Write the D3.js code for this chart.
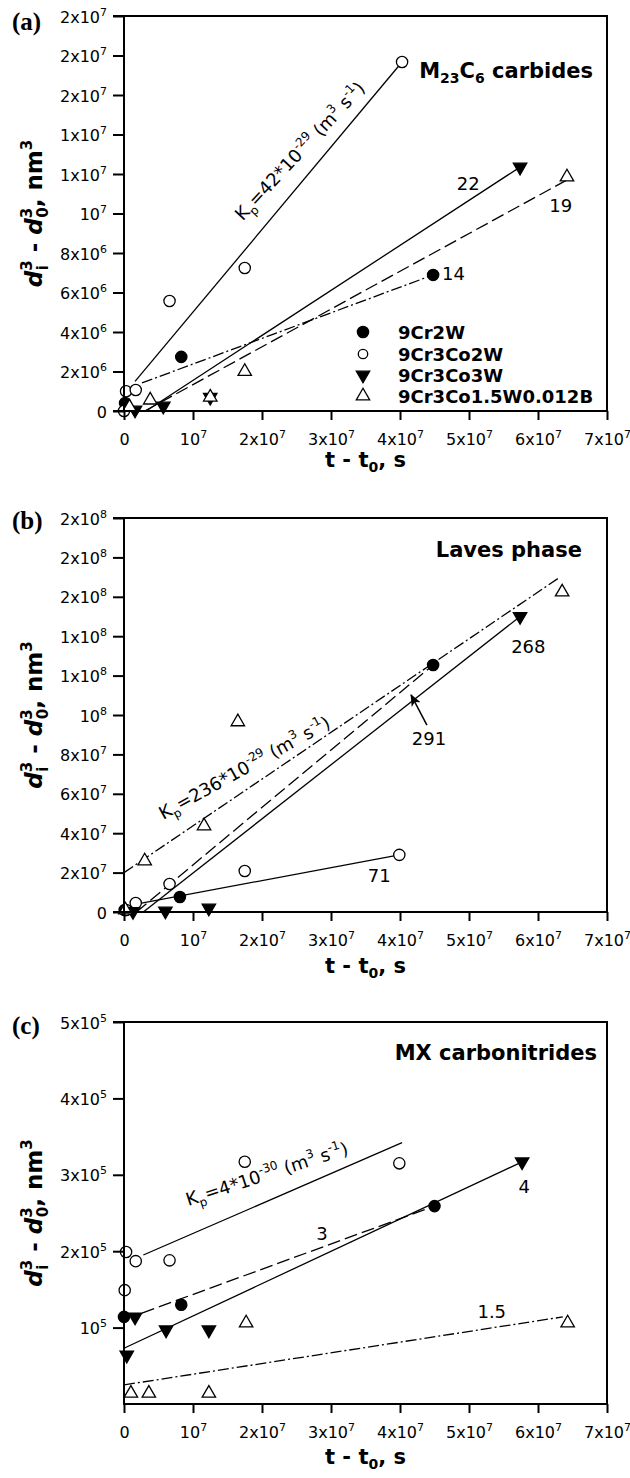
<!DOCTYPE html>
<html>
<head>
<meta charset="utf-8">
<script src="https://cdn.jsdelivr.net/npm/d3@7"></script>
<style>
  body { margin: 0; background: #fff; }
</style>
</head>
<body>
<div id="chart"></div>
<script>
// ---- data ----
var seriesNames = ["9Cr2W", "9Cr3Co2W", "9Cr3Co3W", "9Cr3Co1.5W0.012B"];

var xTicks = [0, 1e7, 2e7, 3e7, 4e7, 5e7, 6e7, 7e7];
var xTickLabels = ["0", "10^7", "2x10^7", "3x10^7", "4x10^7", "5x10^7", "6x10^7", "7x10^7"];

// (a) M23C6 carbides
var m23YTicks = [0, 2e6, 4e6, 6e6, 8e6, 1e7, 1.2e7, 1.4e7, 1.6e7, 1.8e7, 2e7];
var m23YLabels = ["0", "2x10^6", "4x10^6", "6x10^6", "8x10^6", "10^7", "1x10^7", "1x10^7", "2x10^7", "2x10^7", "2x10^7"];
var m23_9Cr2W = [[1.5e5, 4.0e5], [8.3e6, 2.74e6], [4.48e7, 6.89e6]];
var m23_9Cr3Co2W = [[0, 0], [3e5, 1.0e6], [1.7e6, 1.06e6], [6.6e6, 5.57e6], [1.75e7, 7.24e6], [4.03e7, 1.767e7]];
var m23_9Cr3Co3W = [[1.6e6, 5e4], [5.7e6, 2.5e5], [1.25e7, 7.0e5], [5.74e7, 1.235e7]];
var m23_9Cr3Co15W = [[8e5, 2e5], [3.8e6, 5.5e5], [1.25e7, 7.0e5], [1.75e7, 2.0e6], [6.42e7, 1.185e7]];
var m23Fit9Cr2W = [[2.6e6, 1.42e6], [4.48e7, 6.89e6]];
var m23Fit9Cr3Co2W = [[1.6e6, 1.5e6], [4.03e7, 1.767e7]];
var m23Fit9Cr3Co3W = [[3.2e6, 0], [5.74e7, 1.235e7]];
var m23Fit9Cr3Co15W = [[3.0e6, 0], [6.42e7, 1.17e7]];

// (b) Laves phase
var lavYTicks = [0, 2e7, 4e7, 6e7, 8e7, 1e8, 1.2e8, 1.4e8, 1.6e8, 1.8e8, 2e8];
var lavYLabels = ["0", "2x10^7", "4x10^7", "6x10^7", "8x10^7", "10^8", "1x10^8", "1x10^8", "2x10^8", "2x10^8", "2x10^8"];
var lav_9Cr2W = [[1e5, 1e6], [8.1e6, 7.6e6], [4.48e7, 1.254e8]];
var lav_9Cr3Co2W = [[3e5, 1e6], [1.7e6, 4.6e6], [6.6e6, 1.42e7], [1.75e7, 2.08e7], [3.99e7, 2.9e7]];
var lav_9Cr3Co3W = [[1.3e6, 3e5], [6.0e6, 5e5], [1.23e7, 2.0e6], [5.74e7, 1.5e8]];
var lav_9Cr3Co15W = [[2e5, 1e6], [3.0e6, 2.59e7], [1.16e7, 4.37e7], [1.65e7, 9.65e7], [6.35e7, 1.624e8]];
var lavFit9Cr2W = [[1.8e6, 0], [4.48e7, 1.254e8]];
var lavFit9Cr3Co2W = [[1.0e6, 3.5e6], [3.99e7, 2.9e7]];
var lavFit9Cr3Co3W = [[2.8e6, 0], [5.74e7, 1.5e8]];
var lavFit9Cr3Co15W = [[0, 2.0e7], [6.32e7, 1.70e8]];

// (c) MX carbonitrides
var mxYTicks = [1e5, 2e5, 3e5, 4e5, 5e5];
var mxYLabels = ["10^5", "2x10^5", "3x10^5", "4x10^5", "5x10^5"];
var mx_9Cr2W = [[0, 1.14e5], [8.3e6, 1.3e5], [4.5e7, 2.59e5]];
var mx_9Cr3Co2W = [[1e5, 1.49e5], [3e5, 1.99e5], [1.7e6, 1.87e5], [6.6e6, 1.88e5], [1.75e7, 3.17e5], [3.99e7, 3.15e5]];
var mx_9Cr3Co3W = [[4e5, 6.4e4], [1.6e6, 1.14e5], [6.1e6, 9.7e4], [1.23e7, 9.7e4], [5.77e7, 3.17e5]];
var mx_9Cr3Co15W = [[1e6, 1.4e4], [3.6e6, 1.4e4], [1.23e7, 1.4e4], [1.77e7, 1.06e5], [6.43e7, 1.06e5]];
var mxFit9Cr2W = [[2.6e6, 1.19e5], [4.5e7, 2.59e5]];
var mxFit9Cr3Co2W = [[2.8e6, 1.95e5], [4.03e7, 3.42e5]];
var mxFit9Cr3Co3W = [[0, 7.3e4], [5.77e7, 3.17e5]];
var mxFit9Cr3Co15W = [[0, 2.5e4], [6.36e7, 1.14e5]];

// ---- layout / styles ----
var W = 630, H = 1478;
var left = 124, right = 607;
var sansFont = "DejaVu Sans, Verdana, sans-serif";

var markerStyles = [
  { type: d3.symbolCircle, size: 100, fill: "#000", rot: 0 },
  { type: d3.symbolCircle, size: 100, fill: "#fff", rot: 0 },
  { type: d3.symbolTriangle, size: 78, fill: "#000", rot: 180 },
  { type: d3.symbolTriangle, size: 78, fill: "#fff", rot: 0 }
];
var dashSolid = null, dashLong = "13,5", dashDot = "11,3,2,3";

var panels = [
  {
    letter: "(a)", top: 16, bottom: 411, yMax: 2e7, yTicks: m23YTicks, yLabels: m23YLabels,
    zeroTick: true, letterY: 30, xLabelDy: 56,
    points: [m23_9Cr2W, m23_9Cr3Co2W, m23_9Cr3Co3W, m23_9Cr3Co15W],
    fits: [[m23Fit9Cr2W, dashDot], [m23Fit9Cr3Co2W, dashSolid], [m23Fit9Cr3Co3W, dashSolid], [m23Fit9Cr3Co15W, dashLong]],
    title: [["M", ""], ["23", "sub"], ["C", ""], ["6", "sub"], [" carbides", ""]], titleX: 593, titleY: 78,
    notes: [["22", 4.99e7, 1.119e7, "middle"], ["19", 6.33e7, 1.008e7, "middle"], ["14", 4.61e7, 6.63e6, "start"]],
    k: { text: "42", x: 1.72e7, y: 9.6e6, angle: -47, exp: "-29" },
    legend: true
  },
  {
    letter: "(b)", top: 518, bottom: 912, yMax: 2e8, yTicks: lavYTicks, yLabels: lavYLabels,
    zeroTick: true, letterY: 529, xLabelDy: 61,
    points: [lav_9Cr2W, lav_9Cr3Co2W, lav_9Cr3Co3W, lav_9Cr3Co15W],
    fits: [[lavFit9Cr2W, dashLong], [lavFit9Cr3Co2W, dashSolid], [lavFit9Cr3Co3W, dashSolid], [lavFit9Cr3Co15W, dashDot]],
    title: [["Laves phase", ""]], titleX: 582, titleY: 557,
    notes: [["268", 5.86e7, 1.315e8, "middle"], ["291", 4.42e7, 8.48e7, "middle"], ["71", 3.70e7, 1.52e7, "middle"]],
    arrow: [[4.39e7, 9.49e7], [4.16e7, 1.102e8]],
    k: { text: "236", x: 5.7e6, y: 4.67e7, angle: -29, exp: "-29" }
  },
  {
    letter: "(c)", top: 1022, bottom: 1404, yMax: 5e5, yTicks: mxYTicks, yLabels: mxYLabels,
    zeroTick: false, letterY: 1034, xLabelDy: 60,
    points: [mx_9Cr2W, mx_9Cr3Co2W, mx_9Cr3Co3W, mx_9Cr3Co15W],
    fits: [[mxFit9Cr2W, dashLong], [mxFit9Cr3Co2W, dashSolid], [mxFit9Cr3Co3W, dashSolid], [mxFit9Cr3Co15W, dashDot]],
    title: [["MX carbonitrides", ""]], titleX: 597, titleY: 1060,
    notes: [["4", 5.8e7, 2.76e5, "middle"], ["3", 2.87e7, 2.15e5, "middle"], ["1.5", 5.33e7, 1.13e5, "middle"]],
    k: { text: "4", x: 9.3e6, y: 2.59e5, angle: -18, exp: "-30" }
  }
];

var svg = d3.select("#chart").append("svg")
    .attr("width", W)
    .attr("height", H)
    .style("background", "#fff");

svg.append("defs").append("marker")
    .attr("id", "arrowhead")
    .attr("viewBox", "0 0 12 10")
    .attr("refX", 11).attr("refY", 5)
    .attr("markerWidth", 12).attr("markerHeight", 10)
    .attr("markerUnits", "userSpaceOnUse")
    .attr("orient", "auto")
  .append("path")
    .attr("d", "M0,0 L12,5 L0,10 L3,5 z")
    .attr("fill", "#000");

// text with sub/superscript parts: [[str, ""|"sub"|"sup"], ...]
function addParts(text, parts, small, up, down) {
  var cur = 0;
  parts.forEach(function(p) {
    var target = p[1] === "sup" ? -up : (p[1] === "sub" ? down : 0);
    var ts = text.append("tspan").text(p[0]);
    if (target - cur !== 0) ts.attr("dy", target - cur);
    if (p[1]) ts.attr("font-size", small);
    cur = target;
  });
}

function powerParts(label) {
  var bits = label.split("^");
  return bits.length > 1 ? [[bits[0], ""], [bits[1], "sup"]] : [[bits[0], ""]];
}

var x = d3.scaleLinear().domain([0, 7e7]).range([left, right]);

panels.forEach(function(p) {
  var y = d3.scaleLinear().domain([0, p.yMax]).range([p.bottom, p.top]);
  var g = svg.append("g");

  // fitted lines
  var line = d3.line().x(function(d) { return x(d[0]); }).y(function(d) { return y(d[1]); });
  p.fits.forEach(function(f) {
    g.append("path")
        .attr("d", line(f[0]))
        .attr("fill", "none")
        .attr("stroke", "#000")
        .attr("stroke-width", 1.3)
        .attr("stroke-dasharray", f[1]);
  });

  // markers
  p.points.forEach(function(pts, i) {
    var st = markerStyles[i];
    g.selectAll(null).data(pts).enter().append("path")
        .attr("d", d3.symbol().type(st.type).size(st.size))
        .attr("transform", function(d) { return "translate(" + x(d[0]) + "," + y(d[1]) + ") rotate(" + st.rot + ")"; })
        .attr("fill", st.fill)
        .attr("stroke", "#000")
        .attr("stroke-width", 1.3);
  });

  // axes
  var yAxis = g.append("g")
      .attr("transform", "translate(" + left + ",0)")
      .call(d3.axisLeft(y).tickValues(p.yTicks).tickSize(11).tickFormat(function(d, i) { return p.yLabels[i]; }));
  var xAxis = g.append("g")
      .attr("transform", "translate(0," + p.bottom + ")")
      .call(d3.axisBottom(x).tickValues(xTicks).tickSize(9).tickFormat(function(d, i) { return xTickLabels[i]; }));
  [yAxis, xAxis].forEach(function(ax) {
    ax.select(".domain").remove();
    ax.selectAll(".tick line").attr("stroke", "#000").attr("stroke-width", 2);
    ax.selectAll(".tick text")
        .attr("fill", "#000")
        .attr("font-family", sansFont)
        .attr("font-size", 16)
        .each(function() {
          var t = d3.select(this), lab = t.text();
          t.text(null);
          addParts(t, powerParts(lab), 11, 7, 0);
        });
  });
  yAxis.selectAll(".tick text").attr("x", -17).attr("dy", 6);
  xAxis.selectAll(".tick text").attr("y", 34).attr("dy", 0);

  // frame
  var frame = g.append("g").attr("stroke", "#000").attr("stroke-width", 2).attr("fill", "none");
  frame.append("line").attr("x1", left - 11).attr("x2", right).attr("y1", p.top).attr("y2", p.top);
  frame.append("line").attr("x1", p.zeroTick ? left - 11 : left - 1).attr("x2", right + 1).attr("y1", p.bottom).attr("y2", p.bottom);
  frame.append("line").attr("x1", left).attr("x2", left).attr("y1", p.top - 1).attr("y2", p.bottom + 1);
  frame.append("line").attr("x1", right).attr("x2", right).attr("y1", p.top - 1).attr("y2", p.bottom + 1);

  // panel letter
  g.append("text")
      .attr("x", 12).attr("y", p.letterY)
      .attr("font-family", "Liberation Serif, Times New Roman, serif")
      .attr("font-weight", "bold").attr("font-size", 25)
      .text(p.letter);

  // title
  var title = g.append("text")
      .attr("x", p.titleX).attr("y", p.titleY)
      .attr("text-anchor", "end")
      .attr("font-family", sansFont).attr("font-weight", "bold").attr("font-size", 21);
  addParts(title, p.title, 14, 0, 5);

  // slope numbers
  p.notes.forEach(function(n) {
    g.append("text")
        .attr("x", x(n[1])).attr("y", y(n[2]))
        .attr("text-anchor", n[3])
        .attr("font-family", sansFont).attr("font-size", 18)
        .text(n[0]);
  });

  if (p.arrow) {
    g.append("line")
        .attr("x1", x(p.arrow[0][0])).attr("y1", y(p.arrow[0][1]))
        .attr("x2", x(p.arrow[1][0])).attr("y2", y(p.arrow[1][1]))
        .attr("stroke", "#000").attr("stroke-width", 1.5)
        .attr("marker-end", "url(#arrowhead)");
  }

  // K_p label
  var kt = g.append("text")
      .attr("transform", "translate(" + x(p.k.x) + "," + y(p.k.y) + ") rotate(" + p.k.angle + ")")
      .attr("font-family", sansFont).attr("font-size", 18);
  addParts(kt, [["K", ""], ["p", "sub"], ["=" + p.k.text + "*10", ""], [p.k.exp, "sup"],
                [" (m", ""], ["3", "sup"], [" s", ""], ["-1", "sup"], [")", ""]], 12, 8, 5);

  // y axis label: d_i^3 - d_0^3, nm^3
  var cy = (p.top + p.bottom) / 2;
  var yl = g.append("text")
      .attr("transform", "translate(42," + cy + ") rotate(-90)")
      .attr("text-anchor", "middle")
      .attr("font-family", sansFont).attr("font-weight", "bold").attr("font-size", 23);
  yl.append("tspan").attr("font-style", "italic").text("d");
  yl.append("tspan").attr("font-size", 15).attr("dy", -10).text("3");
  yl.append("tspan").attr("font-size", 15).attr("dx", -10).attr("dy", 16).text("i");
  yl.append("tspan").attr("dx", 5).attr("dy", -6).text(" - ");
  yl.append("tspan").attr("font-style", "italic").text("d");
  yl.append("tspan").attr("font-size", 15).attr("dy", -10).text("3");
  yl.append("tspan").attr("font-size", 15).attr("dx", -10).attr("dy", 16).text("0");
  yl.append("tspan").attr("dy", -6).text(", nm");
  yl.append("tspan").attr("font-size", 15).attr("dy", -10).text("3");

  // x axis label: t - t_0, s
  var xl = g.append("text")
      .attr("x", (left + right) / 2).attr("y", p.bottom + p.xLabelDy)
      .attr("text-anchor", "middle")
      .attr("font-family", sansFont).attr("font-weight", "bold").attr("font-size", 21);
  addParts(xl, [["t - t", ""], ["0", "sub"], [", s", ""]], 14, 0, 5);

  // legend
  if (p.legend) {
    var rowsY = [332, 354, 375, 396];
    seriesNames.forEach(function(name, i) {
      var st = markerStyles[i];
      g.append("path")
          .attr("d", d3.symbol().type(st.type).size(i === 1 ? 70 : st.size))
          .attr("transform", "translate(363," + rowsY[i] + ") rotate(" + st.rot + ")")
          .attr("fill", st.fill).attr("stroke", "#000").attr("stroke-width", 1.3);
      g.append("text")
          .attr("x", 398).attr("y", rowsY[i] + 6.5)
          .attr("font-family", sansFont).attr("font-weight", "bold").attr("font-size", 18)
          .text(name);
    });
  }
});
</script>
</body>
</html>
